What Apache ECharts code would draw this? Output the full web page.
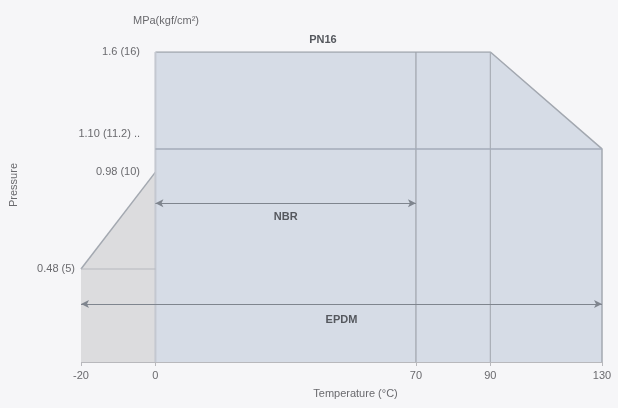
<!DOCTYPE html>
<html>
<head>
<meta charset="utf-8">
<script src="https://cdn.jsdelivr.net/npm/echarts@6/dist/echarts.min.js"></script>
<style>
html,body{margin:0;padding:0;background:#f6f6f8;}
#c{width:618px;height:408px;}
</style>
</head>
<body>
<div id="c"></div>
<script>
// ---- data ----
var xTicks = [-20, 0, 70, 90, 130];
var yTicksOuter = [0.48];
var yTicksInner = [0.98, 1.1, 1.6];
var yTickLabels = {'0.48': '0.48 (5)', '0.98': '0.98 (10)', '1.1': '1.10 (11.2)', '1.6': '1.6 (16)'};
var pn16Outline = [[0, 1.6], [90, 1.6], [130, 1.1], [130, 0]];
var lowTempOutline = [[-20, 0.48], [0, 0.98]];
var line70 = [[70, 0], [70, 1.6]];
var line90 = [[90, 0], [90, 1.6]];
var line0 = [[0, 0], [0, 1.6]];
var line110 = [[0, 1.1], [130, 1.1]];
var line048 = [[-20, 0.48], [0, 0.48]];
var nbrRange = [[0, 0.82], [70, 0.82]];
var epdmRange = [[-20, 0.3], [130, 0.3]];
var pn16Label = [45, 1.6];

var chart = echarts.init(document.getElementById('c'));
var txt = '#6a6a6e', edge = '#a3a8b0', fnt = 'Liberation Sans';

function seg(data, color, width) {
  return {type: 'line', data: data, symbol: 'none', silent: true,
          lineStyle: {color: color, width: width || 1.2}, z: 3};
}

chart.setOption({
  backgroundColor: '#f6f6f8',
  animation: false,
  grid: {left: 80, right: 16, top: 52, bottom: 46},
  xAxis: {
    type: 'value', min: -20, max: 130,
    breaks: [{start: 100, end: 110, gap: 0}],
    breakArea: {show: false},
    name: 'Temperature (°C)', nameLocation: 'middle', nameGap: 26,
    nameTextStyle: {color: txt, fontSize: 11, fontFamily: fnt, padding: [0, 0, 0, 28]},
    axisLine: {show: true, lineStyle: {color: '#b8b8bc'}},
    axisTick: {show: true, customValues: xTicks, length: 4, lineStyle: {color: '#b8b8bc'}},
    axisLabel: {customValues: xTicks, color: txt, fontSize: 11, fontFamily: fnt, margin: 8},
    splitLine: {show: false}
  },
  yAxis: [{
    type: 'value', min: 0, max: 1.6, position: 'left',
    name: 'Pressure', nameLocation: 'middle', nameGap: 62,
    nameTextStyle: {color: txt, fontSize: 11, fontFamily: fnt, padding: [0, 0, 0, 44]},
    axisLine: {show: false}, axisTick: {show: false}, splitLine: {show: false},
    axisLabel: {customValues: yTicksOuter, color: txt, fontSize: 11, fontFamily: fnt, margin: 6,
      formatter: function (v) { return yTickLabels[String(v)]; }}
  }, {
    type: 'value', min: 0, max: 1.6, position: 'left', offset: -71,
    name: 'MPa(kgf/cm²)', nameLocation: 'end', nameGap: 26,
    nameTextStyle: {color: txt, fontSize: 11, fontFamily: fnt, padding: [0, 0, 0, 28]},
    axisLine: {show: false}, axisTick: {show: false}, splitLine: {show: false},
    axisLabel: {customValues: yTicksInner, color: txt, fontSize: 11, fontFamily: fnt, margin: 12,
      formatter: function (v) {
        var s = yTickLabels[String(v)];
        return v === 1.1 ? '{up|' + s + ' ..}' : s;
      },
      rich: {up: {color: txt, fontSize: 11, fontFamily: fnt, padding: [0, 0, 30, 0]}}}
  }],
  series: [
    {type: 'line', data: pn16Outline, symbol: 'none', silent: true,
     lineStyle: {color: edge, width: 1.5}, areaStyle: {color: '#d6dce6', opacity: 1}, z: 2},
    {type: 'line', data: lowTempOutline, symbol: 'none', silent: true,
     lineStyle: {color: edge, width: 1.5}, areaStyle: {color: '#dcdcde', opacity: 1}, z: 1},
    seg(line0, '#c4c8d0', 2),
    seg(line70, '#9ea3ab', 1.2),
    seg(line90, '#a9aeb6', 1.2),
    seg(line110, '#a3abb8', 1.5),
    seg(line048, '#b5b8be', 1.2),
    {type: 'line', data: [], symbol: 'none', silent: true,
     markLine: {
       silent: true, symbol: ['arrow', 'arrow'], symbolSize: [6, 8],
       lineStyle: {color: '#7f858e', width: 1.2, type: 'solid'},
       label: {show: true, position: 'insideMiddleBottom', color: '#55585e', fontSize: 11,
               fontFamily: fnt, fontWeight: 'bold', distance: 8,
               formatter: function (p) { return p.name; }},
       data: [
         [{name: 'NBR', coord: nbrRange[0]}, {coord: nbrRange[1]}],
         [{name: 'EPDM', coord: epdmRange[0], label: {distance: 11}}, {coord: epdmRange[1]}]
       ]
     },
     markPoint: {
       silent: true, symbol: 'circle', symbolSize: 0,
       label: {show: true, formatter: 'PN16', color: '#55585e', fontSize: 11, fontFamily: fnt,
               fontWeight: 'bold', offset: [0, -12]},
       data: [{coord: pn16Label}]
     }}
  ]
});
</script>
</body>
</html>
